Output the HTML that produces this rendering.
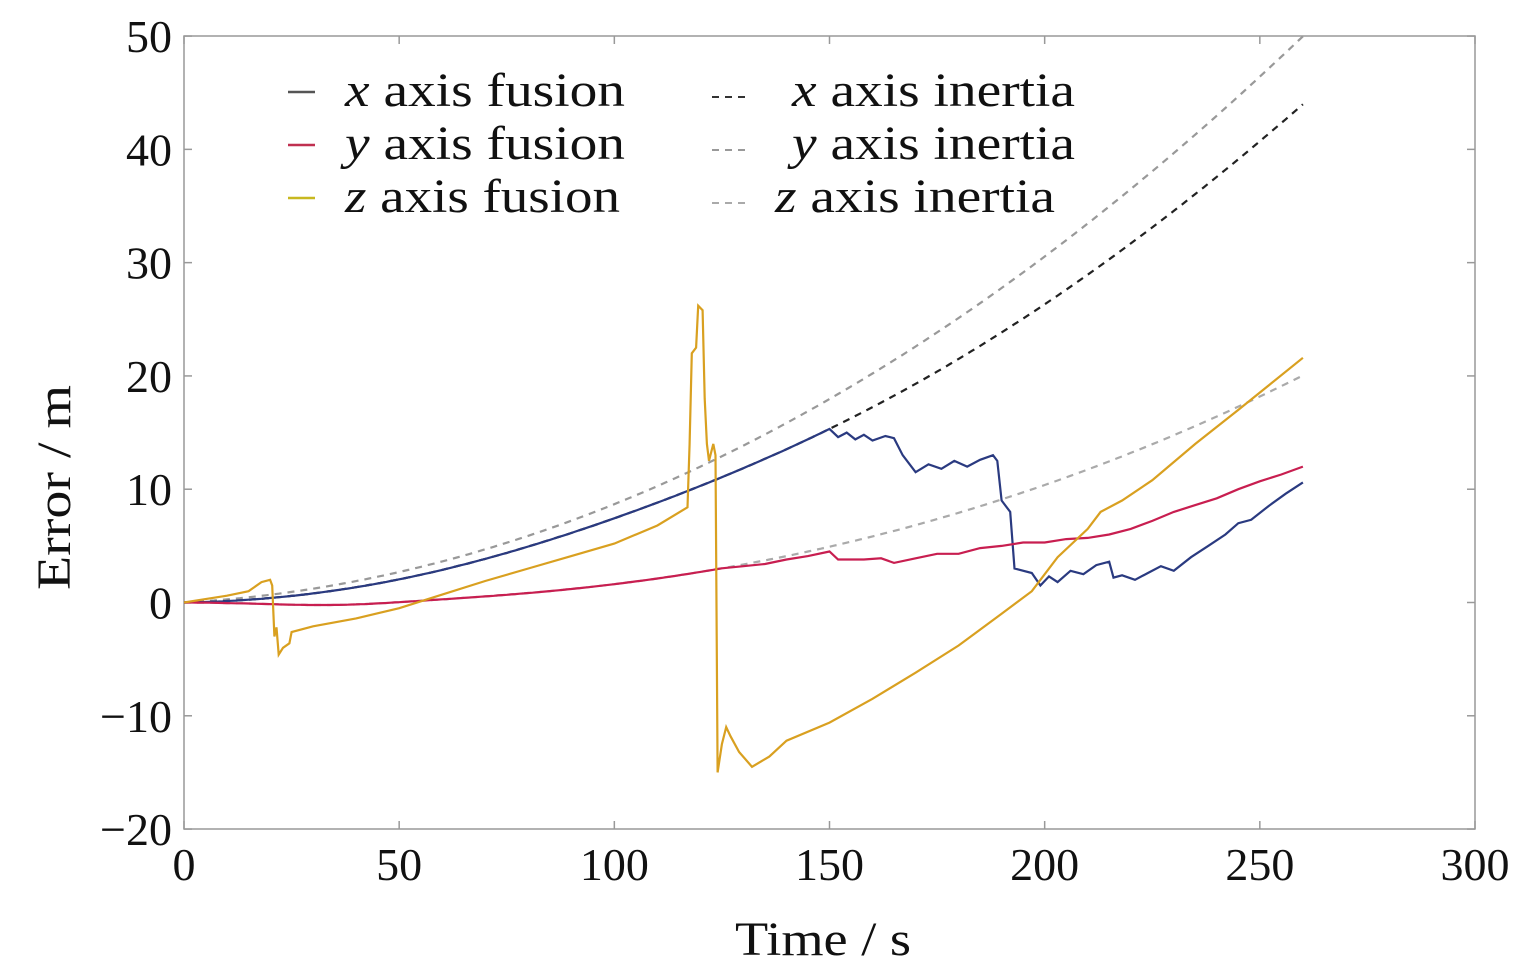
<!DOCTYPE html>
<html><head><meta charset="utf-8"><style>
body{margin:0;background:#fff}
svg text{font-family:"Liberation Serif",serif;fill:#111}
</style></head><body>
<svg id="s" width="1535" height="973" xmlns="http://www.w3.org/2000/svg">
<rect x="184" y="36" width="1291" height="793" fill="none" stroke="#999" stroke-width="1.5"/>
<g id="ticks" stroke="#999" stroke-width="1.5"></g>
<g font-size="46" text-anchor="end" id="yl"></g>
<g font-size="46" text-anchor="middle" id="xl"></g>
<text x="735" y="955" font-size="48" textLength="176" lengthAdjust="spacingAndGlyphs">Time / s</text>
<text transform="translate(70,590) rotate(-90)" font-size="48" textLength="205" lengthAdjust="spacingAndGlyphs">Error / m</text>
<g id="series" fill="none" stroke-width="2.2"></g>
<g font-size="48">
<line x1="288" y1="92" x2="315" y2="92" stroke="#555" stroke-width="2.5"/>
<text x="345" y="106" textLength="280" lengthAdjust="spacingAndGlyphs"><tspan font-style="italic">x</tspan> axis fusion</text>
<line x1="288" y1="145" x2="315" y2="145" stroke="#c03050" stroke-width="2.5"/>
<text x="345" y="159" textLength="280" lengthAdjust="spacingAndGlyphs"><tspan font-style="italic">y</tspan> axis fusion</text>
<line x1="288" y1="198" x2="315" y2="198" stroke="#c8b820" stroke-width="2.5"/>
<text x="345" y="212" textLength="275" lengthAdjust="spacingAndGlyphs"><tspan font-style="italic">z</tspan> axis fusion</text>
<line x1="712" y1="97" x2="745" y2="97" stroke="#333" stroke-width="2" stroke-dasharray="7,6"/>
<text x="792" y="106" textLength="283" lengthAdjust="spacingAndGlyphs"><tspan font-style="italic">x</tspan> axis inertia</text>
<line x1="712" y1="150" x2="745" y2="150" stroke="#999" stroke-width="2" stroke-dasharray="7,6"/>
<text x="792" y="159" textLength="283" lengthAdjust="spacingAndGlyphs"><tspan font-style="italic">y</tspan> axis inertia</text>
<line x1="712" y1="203" x2="745" y2="203" stroke="#aaa" stroke-width="2" stroke-dasharray="7,6"/>
<text x="775" y="212" textLength="280" lengthAdjust="spacingAndGlyphs"><tspan font-style="italic">z</tspan> axis inertia</text>
</g>
</svg>
<script>
const X=t=>184+t*1291/300, Y=v=>602.5-v*793/70;
const NS="http://www.w3.org/2000/svg";
function el(p,tag,a){const e=document.createElementNS(NS,tag);for(const k in a)e.setAttribute(k,a[k]);document.getElementById(p).appendChild(e);return e;}
for(let t=0;t<=300;t+=50){const x=X(t);el('ticks','line',{x1:x,y1:829,x2:x,y2:821});el('ticks','line',{x1:x,y1:36,x2:x,y2:44});
 el('xl','text',{x:x,y:880}).textContent=t;}
for(let v=-20;v<=50;v+=10){const y=Y(v);el('ticks','line',{x1:184,y1:y,x2:192,y2:y});el('ticks','line',{x1:1475,y1:y,x2:1467,y2:y});
 el('yl','text',{x:172,y:y+16}).textContent=(v<0?'\u2212'+(-v):v);}
const fx=t=>0.000629*t*t+0.0056*t+0.006*t*Math.exp(-(((t-90)/60)**2));
const fy=t=>0.000659*t*t+0.0209*t;
const fz=t=>7.1e-5*Math.pow(Math.max(0,t-20),2.29)-0.25*Math.exp(-(((t-35)/20)**2))*Math.min(1,t/10);
function fpath(f,a,b){let d='';for(let t=a;t<=b;t+=1)d+=(d?'L':'M')+X(t).toFixed(1)+','+Y(f(t)).toFixed(1);return d;}
function ppath(pts){return pts.map((p,i)=>(i?'L':'M')+X(p[0]).toFixed(1)+','+Y(p[1]).toFixed(1)).join('');}
function add(d,c,dash,w){el('series','path',{d:d,stroke:c,'stroke-dasharray':dash||'', 'stroke-width':w||2.2});}
add(fpath(fy,0,260),'#999','7,6');
add(fpath(fz,0,260),'#aaa','7,6');
add(fpath(fx,0,260),'#222','7,6');
let xp=[];for(let t=0;t<=150;t++)xp.push([t,fx(t)]);
xp=xp.concat([[152,14.6],[154,15],[156,14.4],[158,14.8],[160,14.3],[163,14.7],[165,14.5],[167,13],[170,11.5],[173,12.2],[176,11.8],[179,12.5],[182,12],[185,12.6],[188,13],[189,12.5],[190,9],[192,8],[193,3],[197,2.6],[199,1.5],[201,2.3],[203,1.8],[206,2.8],[209,2.5],[212,3.3],[215,3.6],[216,2.2],[218,2.4],[221,2],[224,2.6],[227,3.2],[230,2.8],[234,4],[238,5],[242,6],[245,7],[248,7.3],[252,8.5],[256,9.6],[260,10.6]]);
add(ppath(xp),'#2a3a80');
let yp=[];for(let t=0;t<=125;t++)yp.push([t,fz(t)]);
yp=yp.concat([[130,3.2],[135,3.4],[140,3.8],[145,4.1],[150,4.5],[152,3.8],[158,3.8],[162,3.9],[165,3.5],[170,3.9],[175,4.3],[180,4.3],[185,4.8],[190,5],[195,5.3],[200,5.3],[205,5.6],[210,5.7],[215,6],[220,6.5],[225,7.2],[230,8],[235,8.6],[240,9.2],[245,10],[250,10.7],[255,11.3],[260,12]]);
add(ppath(yp),'#c81e50');
let zp=[[0,0],[5,0.3],[10,0.6],[15,1],[18,1.8],[20,2],[20.5,1.5],[21,-3],[21.5,-2.2],[22,-4.6],[23,-4],[24.5,-3.6],[25,-2.6],[30,-2.1],[40,-1.4],[50,-0.5],[60,0.7],[70,1.9],[80,3],[90,4.1],[100,5.2],[110,6.8],[117,8.4],[117.5,14],[118,22],[119,22.5],[119.5,26.2],[120.5,25.8],[121,18],[121.5,14],[122,12.5],[123,14],[123.5,13],[124,-15],[125,-12.5],[126,-11],[127,-11.8],[129,-13.2],[132,-14.5],[136,-13.6],[140,-12.2],[150,-10.6],[160,-8.5],[170,-6.2],[180,-3.8],[190,-1],[197,1],[203,4],[210,6.5],[213,8],[218,9],[225,10.8],[235,14],[245,17],[260,21.6]];
add(ppath(zp),'#d9a020');
</script>
</body></html>
